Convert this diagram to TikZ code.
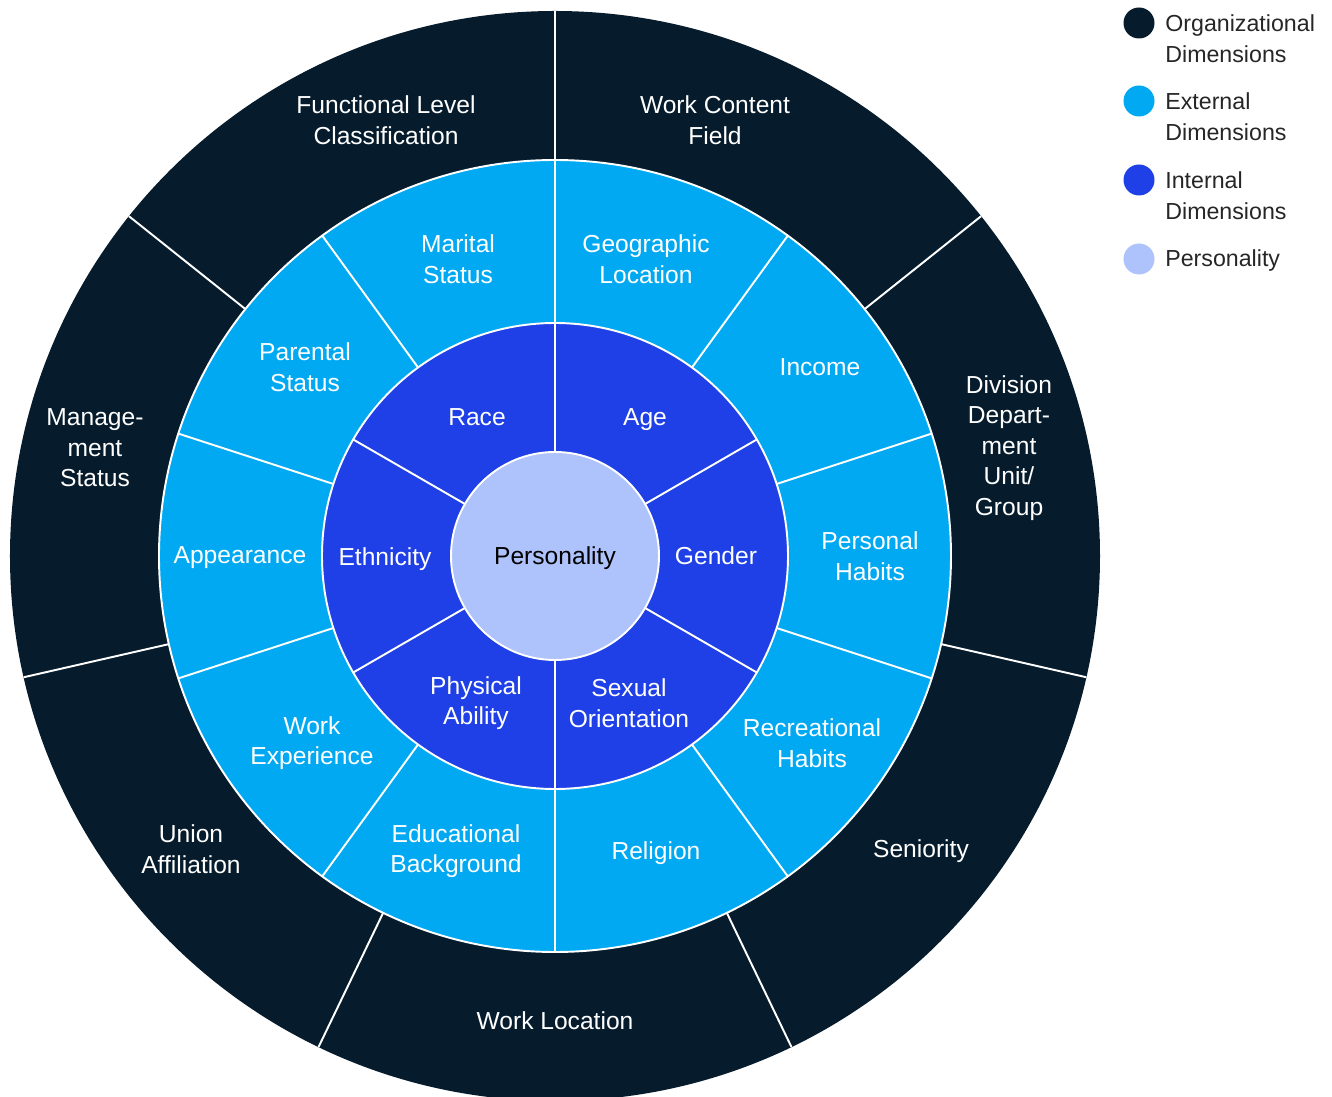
\documentclass[tikz,border=0pt]{standalone}
\usepackage{fontspec}
\setmainfont{Liberation Sans}
\usetikzlibrary{positioning}

\definecolor{orgnavy}{HTML}{061C2C}
\definecolor{extblue}{HTML}{00A9F1}
\definecolor{intblue}{HTML}{1F40E6}
\definecolor{perslav}{HTML}{AEC2FC}
\definecolor{keygray}{HTML}{262626}

\begin{document}
\begin{tikzpicture}[
  font=\fontsize{14}{17.4}\selectfont,
  lbl/.style={text=white, align=center, inner sep=0pt},
  sep/.style={white, line width=1.1pt},
  dot/.style={circle, inner sep=0pt, minimum size=0.62cm},
  key/.style={anchor=west, align=left, text=keygray, inner sep=0pt,
    font=\fontsize{13.2}{17.6}\selectfont}
]
\useasboundingbox (-11.1,-10.82) rectangle (15.54,11.12);

% rings, outermost first
\fill[orgnavy] (0,0) circle (10.9);
\draw[sep, fill=extblue] (0,0) circle (7.92);
\draw[sep, fill=intblue] (0,0) circle (4.66);

% spokes: 7 organizational, 10 external, 6 internal
\foreach \a in {0,...,6} \draw[sep] (90-\a*360/7:7.92) -- (90-\a*360/7:10.9);
\foreach \a in {90,54,...,-234} \draw[sep] (\a:4.66) -- (\a:7.92);
\foreach \a in {90,30,...,-210} \draw[sep] (\a:2.08) -- (\a:4.66);

\node[circle, draw=white, line width=1.1pt, fill=perslav, minimum size=4.16cm,
  inner sep=0pt, text=black, text depth=0pt] (pers) at (0,0) {Personality};

% organizational ring
\node[lbl] (func) at (-3.38,8.72) {Functional Level\\Classification};
\node[lbl] (field) at (3.20,8.72) {Work Content\\Field};
\node[lbl] (div) at (9.08,2.16) {Division\\Depart-\\ment\\Unit/\\Group};
\node[lbl] (senior) at (7.32,-5.90) {Seniority};
\node[lbl] (wloc) at (0,-9.30) {Work Location};
\node[lbl] (union) at (-7.28,-5.86) {Union\\Affiliation};
\node[lbl] (mgmt) at (-9.20,2.16) {Manage-\\ment\\Status};

% external ring
\node[lbl] (marital) at (-1.94,5.94) {Marital\\Status};
\node[lbl] (geo) at (1.82,5.94) {Geographic\\Location};
\node[lbl] (income) at (5.30,3.78) {Income};
\node[lbl] (phabits) at (6.30,0) {Personal\\Habits};
\node[lbl] (rhabits) at (5.14,-3.74) {Recreational\\Habits};
\node[lbl] (religion) at (2.02,-5.94) {Religion};
\node[lbl] (edu) at (-1.98,-5.90) {Educational\\Background};
\node[lbl] (wexp) at (-4.86,-3.74) {Work\\Experience};
\node[lbl] (appear) at (-6.30,-0.04) {Appearance};
\node[lbl] (parent) at (-5.00,3.78) {Parental\\Status};

% internal ring
\node[lbl] (race) at (-1.56,2.78) {Race};
\node[lbl] (age) at (1.80,2.72) {Age};
\node[lbl] (gender) at (3.22,0) {Gender};
\node[lbl] (sexor) at (1.48,-2.94) {Sexual\\Orientation};
\node[lbl] (phys) at (-1.58,-2.94) {Physical\\Ability};
\node[lbl] (ethn) at (-3.40,-0.06) {Ethnicity};

% legend
\node[dot, fill=orgnavy] (k1) at (11.68,10.66) {};
\node[dot, fill=extblue] (k2) at (11.68,9.10) {};
\node[dot, fill=intblue] (k3) at (11.68,7.52) {};
\node[dot, fill=perslav] (k4) at (11.68,5.94) {};
\node[key] (t1) at (12.2,10.34) {Organizational\\Dimensions};
\node[key] (t2) at (12.2,8.78) {External\\Dimensions};
\node[key] (t3) at (12.2,7.20) {Internal\\Dimensions};
\node[key] (t4) at (12.2,5.90) {Personality};
\end{tikzpicture}
\end{document}
